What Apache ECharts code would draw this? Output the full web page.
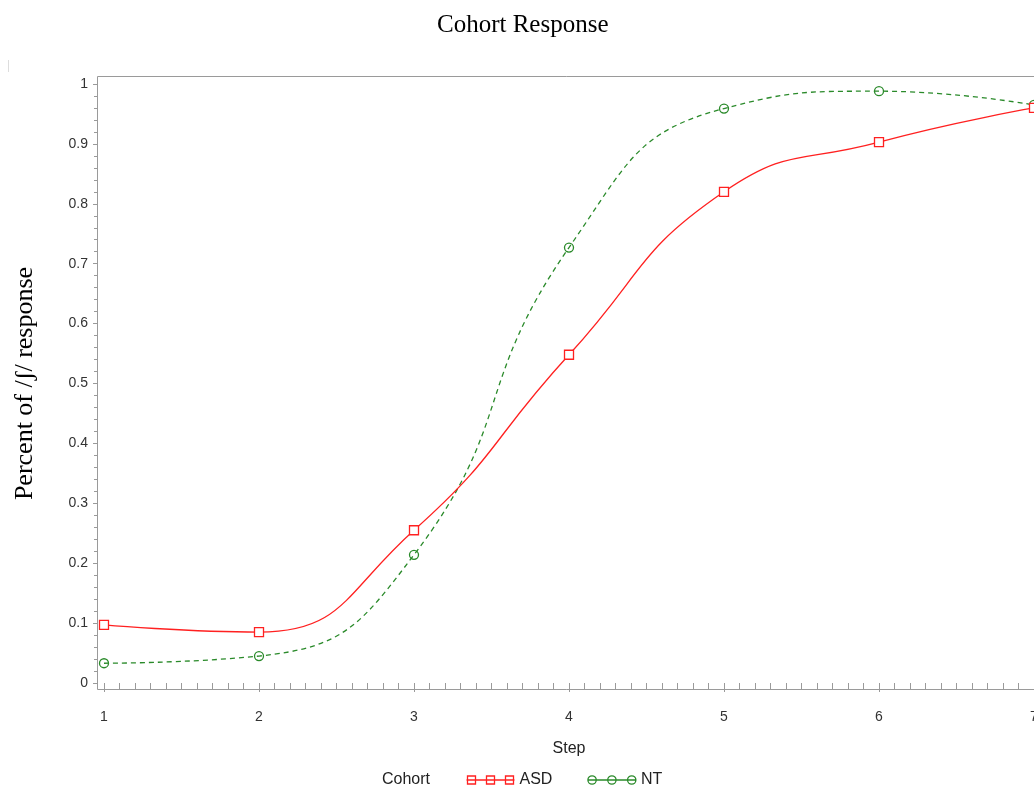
<!DOCTYPE html>
<html>
<head>
<meta charset="utf-8">
<script src="https://cdn.jsdelivr.net/npm/echarts@6/dist/echarts.min.js"></script>
<style>html,body{margin:0;padding:0;background:#fff;}#chart{width:1034px;height:789px;}</style>
</head>
<body>
<div id="chart"></div>
<script>
const steps = [1, 2, 3, 4, 5, 6, 7];
const asd = [0.097, 0.085, 0.255, 0.548, 0.820, 0.903, 0.960];
const nt = [0.033, 0.045, 0.214, 0.727, 0.959, 0.988, 0.965];

const chart = echarts.init(document.getElementById('chart'));
const RED = '#ff2020';
const GREEN = '#2a8a2a';
const axisGray = '#9a9a9a';

const sqIcon = 'path://M0,5H48M1,1h8v8h-8zM20,1h8v8h-8zM39,1h8v8h-8z';
const ciIcon = 'path://M1,5H9M19,5H29M39,5H47M1,5a4,4 0 1,0 8,0a4,4 0 1,0 -8,0M20,5a4,4 0 1,0 8,0a4,4 0 1,0 -8,0M39,5a4,4 0 1,0 8,0a4,4 0 1,0 -8,0M9,5H19M28,5H39';

chart.setOption({
  animation: false,
  title: {
    text: 'Cohort Response',
    left: 437, top: 13, padding: 0,
    textStyle: { fontFamily: 'Liberation Serif', fontSize: 25, fontWeight: 'normal', color: '#000' }
  },
  grid: { left: 104, right: 0, top: 84, bottom: 106, containLabel: false, outerBoundsMode: 'none' },
  xAxis: {
    type: 'value', min: 1, max: 7, interval: 1, offset: 7,
    name: 'Step', nameLocation: 'middle', nameGap: 51,
    nameTextStyle: { fontFamily: 'Liberation Sans', fontSize: 16, color: '#222' },
    axisLine: { show: false },
    axisTick: { show: true, inside: false, length: 9, lineStyle: { color: axisGray } },
    minorTick: { show: true, splitNumber: 10, length: 6, lineStyle: { color: axisGray } },
    axisLabel: { fontFamily: 'Liberation Sans', fontSize: 14, color: '#333', margin: 20 },
    splitLine: { show: false }
  },
  yAxis: {
    type: 'value', min: 0, max: 1, interval: 0.1, offset: 7,
    name: 'Percent of /ʃ/ response', nameLocation: 'middle', nameGap: 59, nameRotate: 90,
    nameTextStyle: { fontFamily: 'Liberation Serif', fontSize: 26, color: '#000' },
    axisLine: { show: false },
    axisTick: { show: true, inside: false, length: 4, lineStyle: { color: axisGray } },
    minorTick: { show: true, splitNumber: 5, length: 3, lineStyle: { color: axisGray } },
    axisLabel: {
      fontFamily: 'Liberation Sans', fontSize: 14, color: '#333', margin: 9,
      formatter: v => String(Math.round(v * 10) / 10)
    },
    splitLine: { show: false }
  },
  legend: {
    left: 464, top: 772, padding: 0,
    itemGap: 33,
    itemWidth: 48, itemHeight: 9,
    textStyle: { fontFamily: 'Liberation Sans', fontSize: 16, color: '#222' },
    data: [
      { name: 'ASD', icon: sqIcon, itemStyle: { color: 'none', borderColor: RED, borderWidth: 1.3 } },
      { name: 'NT', icon: ciIcon, itemStyle: { color: 'none', borderColor: GREEN, borderWidth: 1.3 } }
    ]
  },
  graphic: [
    { type: 'rect', silent: true, z: 0,
      shape: { x: 97.5, y: 76.5, width: 950, height: 613 },
      style: { fill: 'none', stroke: axisGray, lineWidth: 1 } },
    { type: 'text', left: 382, top: 772,
      style: { text: 'Cohort', fontFamily: 'Liberation Sans', fontSize: 16, fill: '#222' } },
    { type: 'line', silent: true, shape: { x1: 8.5, y1: 60, x2: 8.5, y2: 72 }, style: { stroke: '#ddd', lineWidth: 1 } }
  ],
  series: [
    {
      name: 'ASD', type: 'line', smooth: 0.5,
      data: steps.map((s, i) => [s, asd[i]]),
      symbol: 'rect', symbolSize: 9,
      itemStyle: { color: '#fff', borderColor: RED, borderWidth: 1.3 },
      lineStyle: { color: RED, width: 1.3 },
      clip: false, z: 3
    },
    {
      name: 'NT', type: 'line', smooth: 0.5,
      data: steps.map((s, i) => [s, nt[i]]),
      symbol: 'circle', symbolSize: 9,
      itemStyle: { color: 'transparent', borderColor: GREEN, borderWidth: 1.3 },
      lineStyle: { color: GREEN, width: 1.3, type: [5, 4] },
      clip: false, z: 2
    }
  ]
});
</script>
</body>
</html>
